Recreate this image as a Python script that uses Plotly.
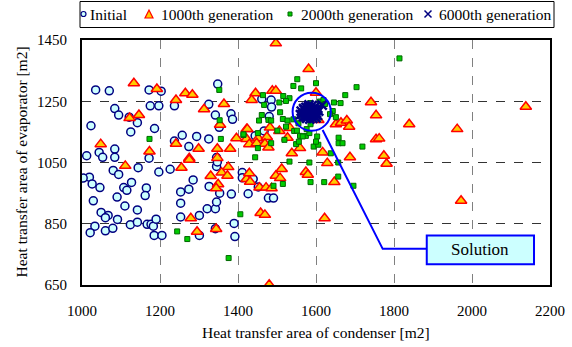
import plotly.graph_objects as go

# ---- data ----
init_x = [1035, 1070, 1172, 1203, 1348, 1175, 1197, 1237, 1325, 1084, 1094, 1121, 1142, 1023, 1125, 1186,
          1342, 1382, 1386, 1352, 1257, 1237, 1294, 1325, 1274, 1012, 1044, 1053, 1084, 1084, 1172, 1345,
          1019, 1003, 1026, 1046, 1080, 1094, 1144, 1197, 1226, 1127, 1107, 1115, 1165, 1162, 1090, 1029,
          1110, 1142, 1049, 1067, 1060, 1091, 1033, 1021, 1060, 1079, 1124, 1142, 1167, 1177, 1183, 1190,
          1185, 1205, 1253, 1274, 1285, 1253, 1253, 1301, 1321, 1342, 1345, 1326, 1353, 1383, 1345, 1347,
          1411, 1411, 1390, 1392, 1301, 1342, 1461, 1485, 1486, 1480, 1467, 1444, 1472, 1439, 1452, 1426,
          1478, 1491]
init_y = [1287, 1284, 1287, 1283, 1306, 1235, 1235, 1235, 1240, 1226, 1205, 1198, 1180, 1170, 1150, 1161,
          1205, 1209, 1191, 1165, 1139, 1120, 1135, 1127, 1102, 1072, 1083, 1067, 1094, 1067, 1064, 1066,
          1002, 999, 980, 968, 1024, 1011, 1033, 1019, 1028, 985, 968, 959, 967, 942, 937, 925,
          908, 895, 887, 877, 870, 864, 842, 821, 827, 835, 847, 855, 848, 848, 842, 865,
          812, 812, 954, 963, 993, 917, 872, 877, 899, 899, 921, 972, 950, 947, 1037, 1052,
          1017, 1000, 851, 808, 812, 834, 1257, 1254, 1231, 1200, 1153, 1137, 1115, 996, 970, 948,
          934, 934]

g1000_x = [1133, 1192, 1265, 1283, 1241, 1364, 1313, 1122, 1146, 1048, 1354, 1396, 1422, 1241, 1299, 1347,
           1380, 1173, 1275, 1111, 1255, 1275, 1347, 1375, 1358, 1330, 1373, 1349, 1344, 1422, 1279, 1295,
           1344, 1497, 1581, 1445, 1488, 1497, 1435, 1741, 1754, 1600, 1606, 1651, 1664, 1679, 1685, 1533,
           1424, 1482, 1422, 1452, 1474, 1506, 1527, 1429, 1448, 1469, 1478, 1754, 1762, 1774, 1687, 1617,
           1559, 1538, 1781, 1629, 1512, 1574, 1579, 1497, 1508, 1429, 1431, 1455, 1472, 1486, 1647, 1458,
           1469, 1622, 1480, 1839, 1962, 2138, 1972]
g1000_y = [1309, 1290, 1276, 1271, 1254, 1241, 1224, 1195, 1205, 1110, 1173, 1129, 1159, 1111, 1095, 1095,
           1095, 1086, 1064, 1039, 1033, 1059, 1065, 1035, 1017, 1006, 1007, 979, 966, 996, 868, 824,
           833, 1439, 1355, 1276, 1284, 1284, 1254, 1247, 1204, 1278, 1189, 1175, 1180, 1187, 1167, 1163,
           1159, 1164, 1127, 1129, 1133, 1153, 1131, 1110, 1113, 1111, 1099, 1126, 1128, 1072, 1067, 1083,
           1097, 1080, 1046, 1048, 1029, 1019, 1010, 1007, 999, 1015, 987, 968, 968, 966, 986, 885,
           879, 868, 651, 1175, 1159, 1232, 925]

g2000_x = [1352, 1353, 1173, 1356, 1414, 1406, 1244, 1270, 1376, 1814, 1552, 1542, 1600, 1562, 1704, 1675,
           1464, 1516, 1532, 1506, 1523, 1467, 1663, 1646, 1508, 1461, 1478, 1454, 1485, 1515, 1527, 1542,
           1651, 1643, 1501, 1451, 1414, 1523, 1544, 1559, 1574, 1583, 1551, 1603, 1555, 1586, 1576, 1566,
           1658, 1658, 1668, 1719, 1594, 1606, 1600, 1549, 1556, 1519, 1485, 1451, 1444, 1638, 1610, 1585,
           1619, 1572, 1562, 1602, 1636, 1623, 1532, 1583, 1657, 1491, 1515, 1586, 1621, 1657, 1696]
g2000_y = [1287, 1188, 1127, 1127, 1140, 881, 825, 800, 738, 1390, 1322, 1300, 1309, 1292, 1296, 1270,
           1270, 1267, 1260, 1246, 1251, 1238, 1244, 1246, 1214, 1205, 1189, 1187, 1187, 1192, 1187, 1191,
           1198, 1218, 1154, 1146, 1142, 1167, 1153, 1137, 1137, 1146, 1154, 1135, 1178, 1175, 1159, 1135,
           1131, 1113, 1113, 1102, 1102, 1108, 1118, 1110, 1118, 1124, 1113, 1097, 1067, 1080, 1249, 1244,
           1254, 1225, 1200, 1211, 1208, 1241, 1053, 1050, 1050, 974, 980, 986, 986, 1004, 974]

g6000_x = [1562, 1568, 1574, 1580, 1586, 1592, 1598, 1604, 1565, 1571, 1577, 1583, 1589, 1595, 1601, 1607,
           1568, 1574, 1580, 1586, 1592, 1598, 1604, 1576, 1584, 1592, 1600, 1582, 1590, 1616, 1560, 1596,
           1570, 1579, 1588, 1597, 1573, 1582, 1591, 1600]
g6000_y = [1218, 1226, 1230, 1232, 1228, 1224, 1222, 1226, 1208, 1212, 1218, 1220, 1216, 1214, 1212, 1218,
           1200, 1198, 1204, 1206, 1204, 1200, 1204, 1194, 1192, 1194, 1196, 1238, 1236, 1237, 1206, 1230,
           1222, 1224, 1222, 1219, 1210, 1210, 1209, 1207]

series_names = ["Initial", "1000th generation", "2000th generation", "6000th generation"]
x_ticks = [1000, 1200, 1400, 1600, 1800, 2000, 2200]
y_ticks = [650, 850, 1050, 1250, 1450]

FONT = "Liberation Serif"
NAVY = "#000080"
W, H = 572, 347
ML, MR, MT, MB = 82, 22, 40, 62
PW, PH = W - ML - MR, H - MT - MB


def px2x(px):
    return (px - ML) / PW


def py2y(py):
    return 1 - (py - MT) / PH


fig = go.Figure()
fig.add_trace(go.Scatter(x=init_x, y=init_y, mode="markers", name=series_names[0],
                         marker=dict(symbol="circle", size=8, color="#ccffff",
                                     line=dict(color=NAVY, width=1.5))))
fig.add_trace(go.Scatter(x=g1000_x, y=g1000_y, mode="markers", name=series_names[1],
                         marker=dict(symbol="triangle-up", size=10, color="#ffcc00",
                                     line=dict(color="#ff0000", width=1.5))))
fig.add_trace(go.Scatter(x=g2000_x, y=g2000_y, mode="markers", name=series_names[2],
                         marker=dict(symbol="square", size=5, color="#00cc00",
                                     line=dict(color="#006600", width=1))))
fig.add_trace(go.Scatter(x=g6000_x, y=g6000_y, mode="markers", name=series_names[3],
                         marker=dict(symbol="x-thin", size=9, color=NAVY,
                                     line=dict(color=NAVY, width=2.5))))

# annotation: circle, leader line, box
fig.add_shape(type="circle", xref="x", yref="y", x0=1540, x1=1638, y0=1154, y1=1278,
              line=dict(color="#0000ff", width=2))
fig.add_shape(type="path", xref="x", yref="y",
              path="M 1617 1156 L 1771 768 L 1884 768",
              line=dict(color="#0000ff", width=2))
fig.add_shape(type="rect", xref="x", yref="y", x0=1884, x1=2159, y0=718, y1=812,
              fillcolor="#ccffff", line=dict(color="#0000ff", width=2))
fig.add_annotation(x=2021, y=765, xref="x", yref="y", text="Solution", showarrow=False,
                   font=dict(family=FONT, size=17, color="black"))

# ---- hand-drawn legend (box, symbols, labels) ----
fig.add_shape(type="rect", xref="paper", yref="paper",
              x0=px2x(80), x1=px2x(554), y0=py2y(27.5), y1=py2y(1.5),
              line=dict(color="black", width=1), fillcolor="white", layer="above")
ly = 14
# circle
fig.add_shape(type="circle", xref="paper", yref="paper",
              x0=px2x(81), x1=px2x(86), y0=py2y(ly + 2.5), y1=py2y(ly - 2.5),
              line=dict(color=NAVY, width=1.2), fillcolor="#ccffff", layer="above")
# triangle
tx = 149
fig.add_shape(type="path", xref="paper", yref="paper",
              path=f"M {px2x(tx-4)} {py2y(ly+4)} L {px2x(tx+4)} {py2y(ly+4)} L {px2x(tx)} {py2y(ly-4)} Z",
              line=dict(color="#ff0000", width=1.2), fillcolor="#ffcc00", layer="above")
# square
sx = 290
fig.add_shape(type="rect", xref="paper", yref="paper",
              x0=px2x(sx-2), x1=px2x(sx+2), y0=py2y(ly+2), y1=py2y(ly-2),
              line=dict(color="#006600", width=1), fillcolor="#00cc00", layer="above")
# x
xx = 428
fig.add_shape(type="path", xref="paper", yref="paper",
              path=(f"M {px2x(xx-3.5)} {py2y(ly-3.5)} L {px2x(xx+3.5)} {py2y(ly+3.5)} "
                    f"M {px2x(xx-3.5)} {py2y(ly+3.5)} L {px2x(xx+3.5)} {py2y(ly-3.5)}"),
              line=dict(color=NAVY, width=1.5), layer="above")
for name, lx in zip(series_names, [88, 159, 299, 437]):
    fig.add_annotation(x=px2x(lx), y=py2y(ly), xref="paper", yref="paper", text=name,
                       showarrow=False, xanchor="left", yanchor="middle",
                       font=dict(family=FONT, size=15.5, color="black"))

fig.update_xaxes(range=[1000, 2200], tickvals=x_ticks, ticks="", showline=True, mirror=True,
                 linecolor="black", linewidth=2, showgrid=True, gridcolor="#808080",
                 griddash="dash", gridwidth=1, zeroline=False, automargin=False,
                 ticklabelstandoff=11,
                 tickfont=dict(family=FONT, size=15, color="black"))
fig.update_yaxes(range=[650, 1450], tickvals=y_ticks, ticks="", showline=True, mirror=True,
                 linecolor="black", linewidth=2, showgrid=True, gridcolor="#333333",
                 griddash="dash", gridwidth=1, zeroline=False, automargin=False,
                 ticklabelstandoff=10,
                 tickfont=dict(family=FONT, size=15, color="black"))

# axis titles
fig.add_annotation(x=0.5, y=py2y(332), xref="paper", yref="paper",
                   text="Heat transfer area of condenser [m2]", showarrow=False,
                   xanchor="center", yanchor="middle",
                   font=dict(family=FONT, size=15.5, color="black"))
fig.add_annotation(x=px2x(21), y=0.5, xref="paper", yref="paper",
                   text="Heat transfer area of evaporator [m2]", showarrow=False, textangle=-90,
                   xanchor="center", yanchor="middle",
                   font=dict(family=FONT, size=15.5, color="black"))

fig.update_layout(
    width=W, height=H,
    margin=dict(l=ML, r=MR, t=MT, b=MB),
    paper_bgcolor="white", plot_bgcolor="white",
    font=dict(family=FONT, size=15, color="black"),
    showlegend=False,
)

fig.write_html("out.html", config={"displayModeBar": False},
               post_script="document.body.style.margin='0';document.body.style.padding='0';")
